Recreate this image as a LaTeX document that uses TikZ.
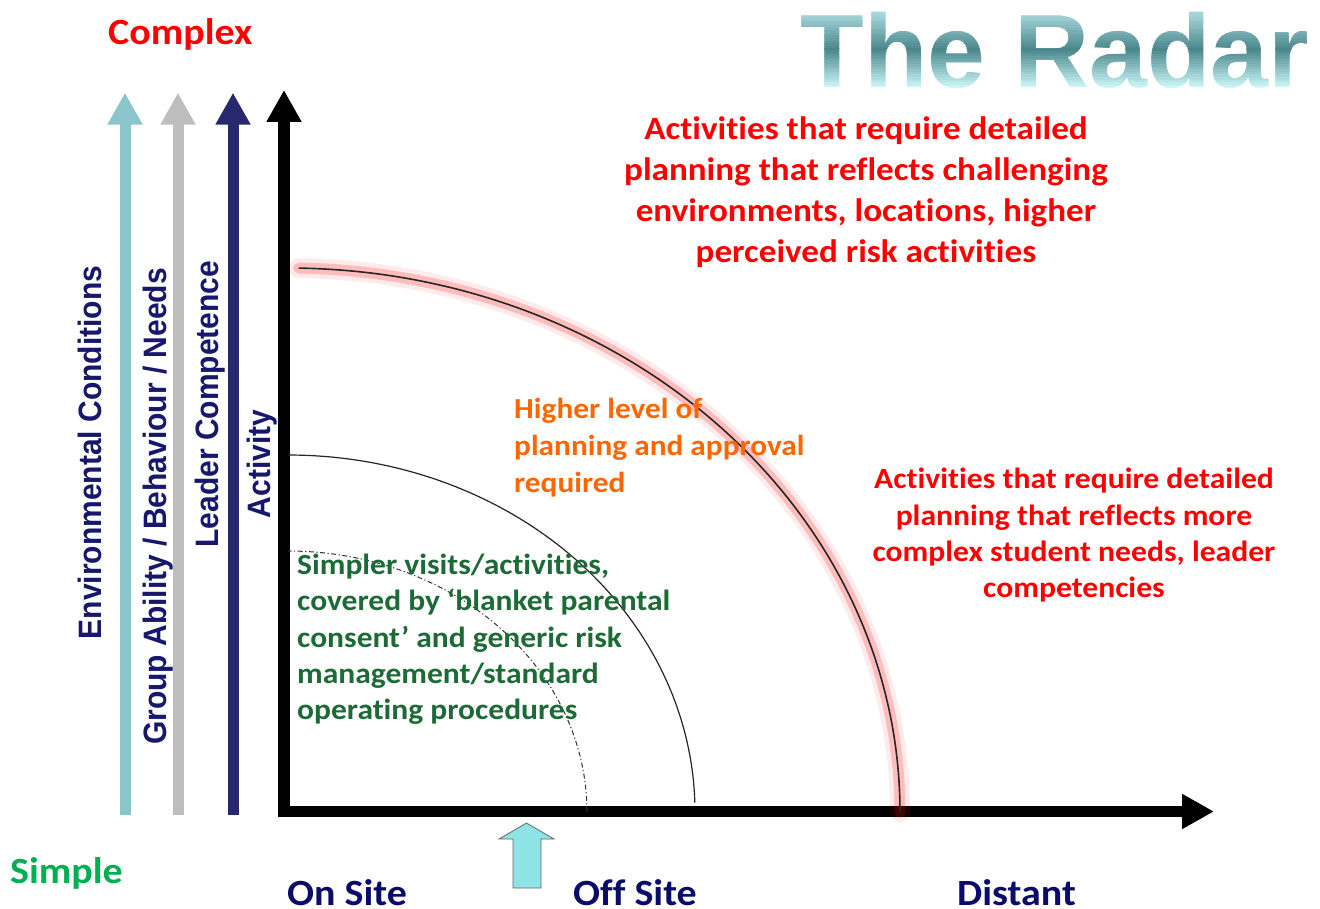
\documentclass[tikz,border=0pt]{standalone}
\usepackage{fontspec}
\setmainfont{Carlito}[Ligatures={NoCommon,NoContextual},RawFeature={-liga;-clig}]
\newfontfamily\arialf{Liberation Sans}
\usetikzlibrary{arrows.meta}
\definecolor{radred}{HTML}{FF0000}
\definecolor{radorange}{HTML}{FF6600}
\definecolor{raddkgreen}{HTML}{1C6A35}
\definecolor{radgreen}{HTML}{00B050}
\definecolor{radnavytxt}{HTML}{0B0B6B}
\definecolor{radvlabel}{HTML}{17176E}
\definecolor{tealarrow}{HTML}{8BC5CC}
\definecolor{grayarrow}{HTML}{BDBDBD}
\definecolor{navyarrow}{HTML}{28286E}
\definecolor{cyanblock}{HTML}{8EE4E4}
\definecolor{radarlow}{HTML}{CDF8F8}
\definecolor{radarmid}{HTML}{4A878B}
\definecolor{radartop}{HTML}{A6D6DA}
\tikzset{
  axisarrow/.style={line width=#1, -{Triangle[width=33pt,length=32pt]}},
  titletxt/.style={anchor=base, inner sep=0pt, text=bandc, font=\arialf\bfseries\fontsize{104}{110}\selectfont},
  vlabel/.style={anchor=base, rotate=90, yscale=1.08, inner sep=0pt, text=radvlabel, font=\arialf\bfseries\fontsize{30}{34}\selectfont},
  bigred/.style={anchor=north, xscale=1.08, inner sep=0pt, align=center, text=radred, font=\bfseries\fontsize{32.5}{41}\selectfont},
  sidered/.style={anchor=north, xscale=1.08, inner sep=0pt, align=center, text=radred, font=\bfseries\fontsize{29.3}{36.3}\selectfont},
  orangetxt/.style={anchor=north west, xscale=1.08, inner sep=0pt, align=left, text=radorange, font=\bfseries\fontsize{29}{36.8}\selectfont},
  greentxt/.style={anchor=north west, xscale=1.08, inner sep=0pt, align=left, text=raddkgreen, font=\bfseries\fontsize{29.2}{36.2}\selectfont},
  sitelabel/.style={anchor=base west, xscale=1.08, inner sep=0pt, text=radnavytxt, font=\bfseries\fontsize{37}{40}\selectfont},
  endlabel/.style={anchor=base west, xscale=1.08, inner sep=0pt, font=\bfseries\fontsize{37}{40}\selectfont},
}
\begin{document}
\begin{tikzpicture}[x=1pt,y=-1pt]
\useasboundingbox[fill=white] (0,0) rectangle (1320,909);

% title with vertical gradient (drawn in thin horizontal bands)
\foreach \i in {0,...,31}{
  \pgfmathsetmacro{\ya}{10+\i*2.6}
  \pgfmathsetmacro{\yb}{\ya+2.9}
  \pgfmathsetmacro{\tt}{(\ya+1.3-15)/73}
  \pgfmathsetmacro{\pa}{min(100,max(0,100*\tt/0.48))}
  \pgfmathsetmacro{\pb}{min(100,max(0,100*(\tt-0.48)/0.52))}
  \colorlet{bandc}{radarmid!\pa!radartop}
  \colorlet{bandc}{radarlow!\pb!bandc}
  \begin{scope}
    \clip (780,\ya) rectangle (1320,\yb);
    \node[titletxt] (title\i) at (1055,88) {The Radar};
  \end{scope}
}

% coordinates for axes
\coordinate (envB) at (125,815);   \coordinate (envT) at (125,92.7);
\coordinate (grpB) at (178,815);   \coordinate (grpT) at (178,92.7);
\coordinate (ldrB) at (233,815);   \coordinate (ldrT) at (233,92.7);
\coordinate (actB) at (284,817.3); \coordinate (actT) at (284,90);
\coordinate (horL) at (278,811.5); \coordinate (horR) at (1214,811.5);

\draw[axisarrow=11pt, tealarrow] (envB) -- (envT);
\draw[axisarrow=11pt, grayarrow] (grpB) -- (grpT);
\draw[axisarrow=11pt, navyarrow] (ldrB) -- (ldrT);
\draw[axisarrow=12pt, black] (actB) -- (actT);
\draw[axisarrow=11.6pt, black] (horL) -- (horR);

% arcs
\draw[line width=1pt, black!80, dash pattern=on 5pt off 2.5pt on 1.2pt off 2.5pt]
  plot[domain=0:90, samples=60, smooth] ({288+299*cos(\x)},{812-261*sin(\x)});
\draw[line width=1.2pt, black!85]
  plot[domain=1.5:90, samples=60, smooth] ({288+407*cos(\x)},{812-357*sin(\x)});
\draw[line width=20pt, radred, opacity=0.08, line cap=round]
  plot[domain=0:89, samples=80, smooth] ({288+612*cos(\x)},{812-544*sin(\x)});
\draw[line width=11pt, radred, opacity=0.20, line cap=round]
  plot[domain=0:89, samples=80, smooth] ({288+612*cos(\x)},{812-544*sin(\x)});
\draw[line width=1.6pt, black!85]
  plot[domain=0:89, samples=80, smooth] ({288+612*cos(\x)},{812-544*sin(\x)});

% cyan block arrow
\draw[fill=cyanblock, draw=black!60, line width=0.8pt]
  (513,888) -- (513,839) -- (499,839) -- (526.5,823) -- (554,839) -- (541,839) -- (541,888) -- cycle;

% vertical labels
\node[vlabel] (envlab) at (101,452.5) {Environmental Conditions};
\node[vlabel] (grplab) at (166,506.5) {Group Ability / Behaviour / Needs};
\node[vlabel] (ldrlab) at (218,404) {Leader Competence};
\node[vlabel] (actlab) at (270,464) {Activity};

% end labels
\node[endlabel, text=radred] (complex) at (108,45) {Complex};
\node[endlabel, text=radgreen] (simple) at (10,883) {Simple};
\node[sitelabel] (onsite) at (287,905) {On Site};
\node[sitelabel] (offsite) at (573,905) {Off Site};
\node[sitelabel] (distant) at (957,905) {Distant};

% text blocks
\node[bigred] (topred) at (866,116) {Activities that require detailed\\planning that reflects challenging\\environments, locations, higher\\perceived risk activities};
\node[sidered] (sidered) at (1074,468) {Activities that require detailed\\planning that reflects more\\complex student needs, leader\\competencies};
\node[orangetxt] (orange) at (514,398) {Higher level of\\planning and approval\\required};
\node[greentxt] (green) at (297,554) {Simpler visits/activities,\\covered by ‘blanket parental\\consent’ and generic risk\\management/standard\\operating procedures};
\end{tikzpicture}
\end{document}
